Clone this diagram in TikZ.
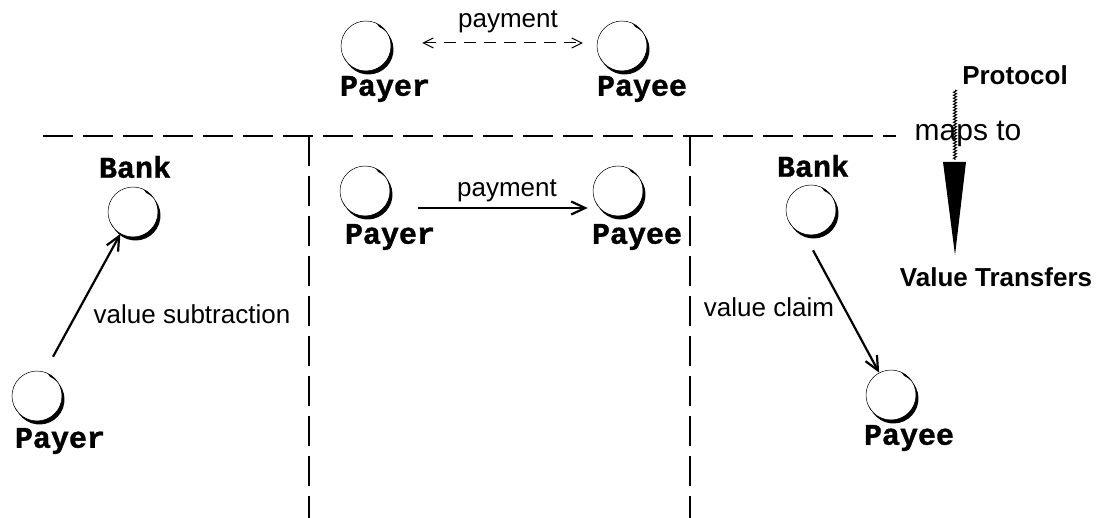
\documentclass[tikz,border=0pt]{standalone}
\usepackage{fontspec}
\setmainfont{Liberation Sans}
\newfontfamily\codefont{Liberation Mono}[BoldFeatures={FakeBold=1.2}]
\usetikzlibrary{arrows.meta,calc,decorations.pathmorphing}

% an actor: thin circle with a heavy crescent on its lower right
\newcommand\crescent[1]{%
  \fill ($(#1.center)+(65:25pt)$) arc[start angle=65,end angle=-155,radius=25pt]
    -- ($(#1.center)+(2.5pt,-3.5pt)+(-155:25pt)$)
    arc[start angle=-155,end angle=65,radius=25pt] -- cycle;}

\tikzset{
  actor/.style={circle, draw, line width=0.5pt, minimum size=50pt, inner sep=0pt},
  role/.style={font=\codefont\bfseries\fontsize{30}{30}\selectfont, inner sep=0pt},
  msg/.style={font=\fontsize{26}{26}\selectfont, inner sep=0pt},
  heading/.style={font=\bfseries\fontsize{26}{26}\selectfont, inner sep=0pt},
  flow/.style={line width=2.2pt, -{Straight Barb[length=14pt,width=13pt,line width=2.2pt]}},
  proto/.style={line width=1pt, dash pattern=on 12pt off 8pt,
    {Straight Barb[length=10pt,width=10pt,line width=1pt]}-{Straight Barb[length=10pt,width=10pt,line width=1pt]}},
  divider/.style={line width=2.4pt, dash pattern=on 30pt off 10pt},
}

\begin{document}
\begin{tikzpicture}[x=1pt,y=-1pt]
\useasboundingbox (0,0) rectangle (1102,518);

% ---- protocol level ----
\node[actor] (payerT) at (366,46) {};
\node[actor] (payeeT) at (622,46) {};
\crescent{payerT}\crescent{payeeT}
\node[role] (payerTl) at (385,89) {Payer};
\node[role] (payeeTl) at (642,89) {Payee};
\node[msg]  (payT) at (508,22) {payment};
\draw[proto] ([shift={(31,-3)}]payerT.east) -- ([shift={(-14,-3)}]payeeT.west);

% ---- dividers ----
\coordinate (hl) at (43,136);
\coordinate (hr) at (896,136);
\coordinate (v1t) at (309,136);
\coordinate (v1b) at (309,518);
\coordinate (v2t) at (690,136);
\coordinate (v2b) at (690,518);
\draw[divider] (hl) -- (hr);
\draw[divider] (v1t) -- (v1b);
\draw[divider] (v2t) -- (v2b);

% ---- left: payer to bank ----
\node[role] (bankLl) at (135,167) {Bank};
\node[actor] (bankL) at (133,212) {};
\node[actor] (payerL) at (37,396) {};
\crescent{bankL}\crescent{payerL}
\node[role] (payerLl) at (60,441) {Payer};
\node[msg] (valsub) at (192,314) {value subtraction};
\draw[flow] ([shift={(16,-14)}]payerL.north) -- (bankL.-120);

% ---- middle: payer to payee ----
\node[actor] (payerM) at (365,191) {};
\node[actor] (payeeM) at (618,191) {};
\crescent{payerM}\crescent{payeeM}
\node[role] (payerMl) at (390,237) {Payer};
\node[role] (payeeMl) at (637,237) {Payee};
\node[msg] (payM) at (507,191) {payment};
\draw[flow] ([shift={(28,17)}]payerM.east) -- ([shift={(-5,17)}]payeeM.west);

% ---- right: bank to payee ----
\node[role] (bankRl) at (813,166) {Bank};
\node[actor] (bankR) at (811,210) {};
\node[actor] (payeeR) at (891,395) {};
\crescent{bankR}\crescent{payeeR}
\node[role] (payeeRl) at (909,438) {Payee};
\node[msg] (valclaim) at (769,307) {value claim};
\draw[flow] ([shift={(2,15)}]bankR.south) -- (payeeR.118);

% ---- legend ----
\node[heading] (protocol) at (1015,75) {Protocol};
\node[msg, font=\fontsize{30}{30}\selectfont] (mapsto) at (968,134) {maps to};
\node[heading] (transfers) at (996,277) {Value Transfers};
\coordinate (sqa) at (955,90);
\coordinate (sqb) at (955,160);
\draw[line width=1pt, decorate, decoration={zigzag, segment length=3pt, amplitude=1.5pt}] (sqa) -- (sqb);
\coordinate (tl) at (943,162);
\coordinate (tr) at (966,162);
\coordinate (tip) at (955,255);
\fill (tl) -- (tr) -- (tip) -- cycle;
\end{tikzpicture}
\end{document}
